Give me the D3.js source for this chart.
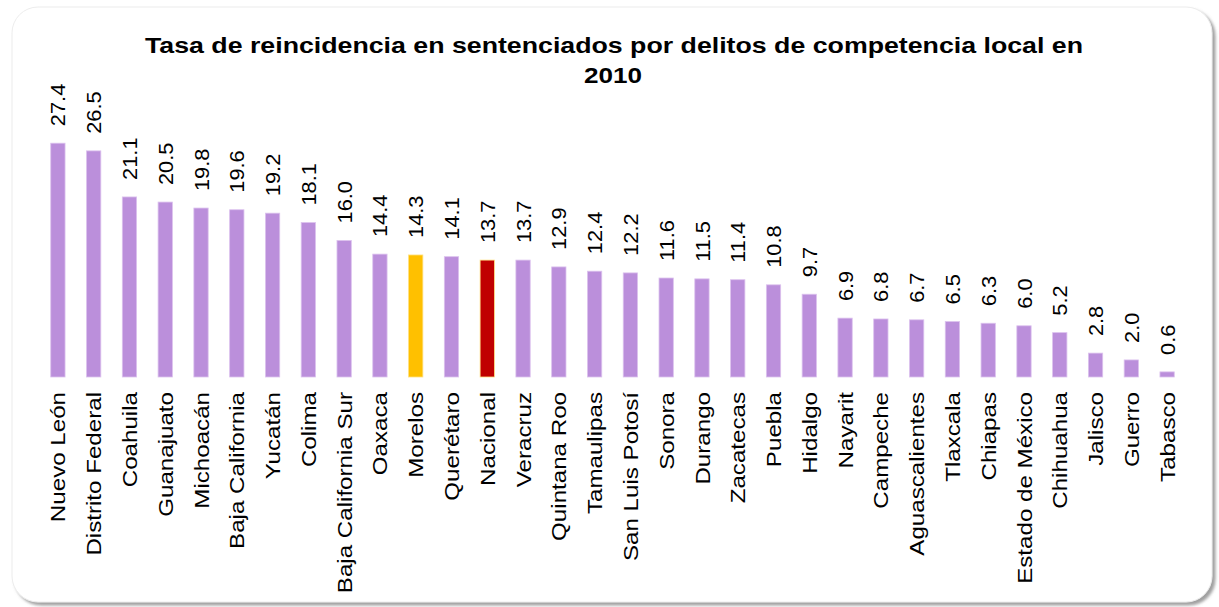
<!DOCTYPE html>
<html lang="es">
<head>
<meta charset="UTF-8">
<title>Tasa de reincidencia</title>
<script src="https://d3js.org/d3.v7.min.js"></script>
<style>
    body { margin: 0; background: #fff; }
    text { font-family: "Liberation Sans", Arial, sans-serif; }
</style>
</head>
<body>
<svg id="chart" width="1219" height="607"></svg>
<script>
    const estados = ["Nuevo León", "Distrito Federal", "Coahuila", "Guanajuato", "Michoacán",
        "Baja California", "Yucatán", "Colima", "Baja California Sur", "Oaxaca", "Morelos",
        "Querétaro", "Nacional", "Veracruz", "Quintana Roo", "Tamaulipas", "San Luis Potosí",
        "Sonora", "Durango", "Zacatecas", "Puebla", "Hidalgo", "Nayarit", "Campeche",
        "Aguascalientes", "Tlaxcala", "Chiapas", "Estado de México", "Chihuahua", "Jalisco",
        "Guerro", "Tabasco"];
    const tasas = [27.4, 26.5, 21.1, 20.5, 19.8, 19.6, 19.2, 18.1, 16.0, 14.4, 14.3, 14.1,
        13.7, 13.7, 12.9, 12.4, 12.2, 11.6, 11.5, 11.4, 10.8, 9.7, 6.9, 6.8, 6.7, 6.5, 6.3,
        6.0, 5.2, 2.8, 2.0, 0.6];
    const destacados = { "Morelos": "#FFC000", "Nacional": "#C00000" };
    const titulo = ["Tasa de reincidencia en sentenciados por delitos de competencia local en", "2010"];

    const svg = d3.select("#chart");

    // marco con sombra
    const defs = svg.append("defs");
    const f = defs.append("filter").attr("id", "sombra").attr("x", "-5%").attr("y", "-5%")
        .attr("width", "110%").attr("height", "110%");
    f.append("feDropShadow").attr("dx", 3).attr("dy", 3).attr("stdDeviation", 1.5)
        .attr("flood-color", "#888").attr("flood-opacity", 0.8);

    svg.append("rect")
        .attr("x", 12).attr("y", 7).attr("width", 1200).attr("height", 595)
        .attr("rx", 26).attr("ry", 26)
        .attr("fill", "#fff").attr("stroke", "#ececec").attr("stroke-width", 1)
        .attr("filter", "url(#sombra)");

    // título (estirado a lo ancho como en el original)
    svg.append("text")
        .attr("x", 614).attr("y", 53)
        .attr("text-anchor", "middle")
        .attr("font-size", 22).attr("font-weight", "bold")
        .attr("textLength", 938).attr("lengthAdjust", "spacingAndGlyphs")
        .text(titulo[0]);
    svg.append("text")
        .attr("x", 613).attr("y", 83)
        .attr("text-anchor", "middle")
        .attr("font-size", 22).attr("font-weight", "bold")
        .attr("textLength", 58).attr("lengthAdjust", "spacingAndGlyphs")
        .text(titulo[1]);

    const x = d3.scaleBand().domain(estados).range([40, 1185])
        .paddingInner(0.6).paddingOuter(0.3);
    const y = d3.scaleLinear().domain([0, 30]).range([377, 121]);

    const data = estados.map((e, i) => ({ estado: e, tasa: tasas[i] }));

    svg.append("g").selectAll("rect").data(data).enter().append("rect")
        .attr("x", d => x(d.estado))
        .attr("y", d => y(d.tasa))
        .attr("width", x.bandwidth())
        .attr("height", d => y(0) - y(d.tasa))
        .attr("fill", d => destacados[d.estado] || "#BB8FDB")
        .attr("stroke", d => destacados[d.estado] ? "#FFE080" : "#DCC2EE")
        .attr("stroke-width", 0.8);

    // etiquetas de valor
    svg.append("g").selectAll("text").data(data).enter().append("text")
        .attr("transform", d => `translate(${x(d.estado) + x.bandwidth() / 2},${y(d.tasa) - 17}) rotate(-90) scale(1.04,1)`)
        .attr("dy", "0.36em")
        .attr("font-size", 21)
        .attr("fill", "#000")
        .text(d => d.tasa.toFixed(1));

    // eje de categorías
    svg.append("g").selectAll("text").data(estados).enter().append("text")
        .attr("transform", d => `translate(${x(d) + x.bandwidth() / 2},${y(0) + 15}) rotate(-90) scale(1.15,1)`)
        .attr("dy", "0.36em")
        .attr("text-anchor", "end")
        .attr("font-size", 21)
        .attr("fill", "#000")
        .text(d => d);
</script>
</body>
</html>
